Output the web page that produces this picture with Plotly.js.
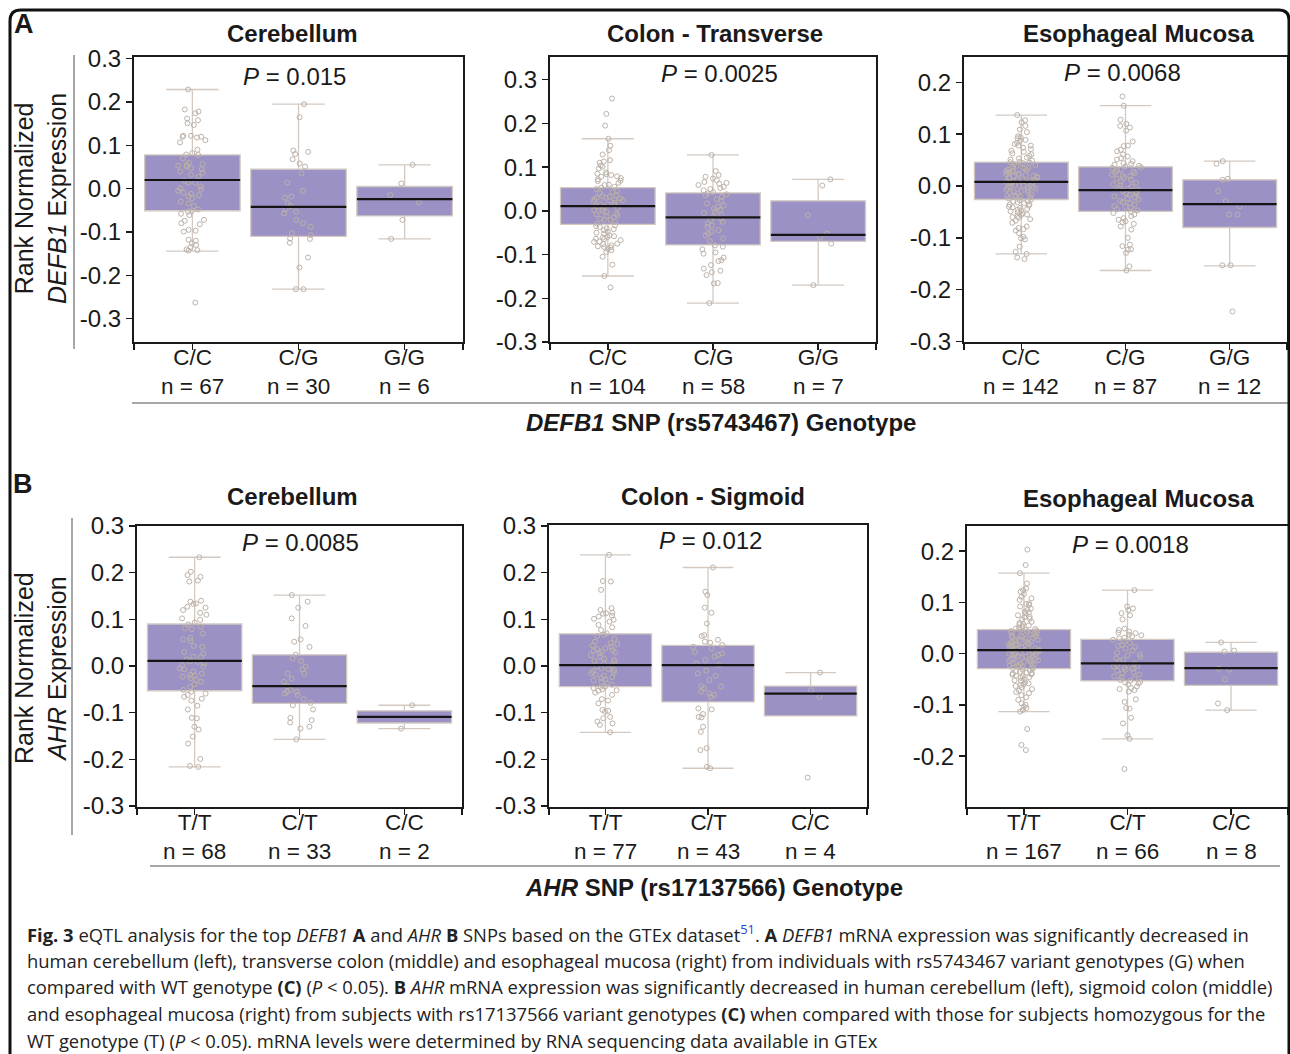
<!DOCTYPE html>
<html><head><meta charset="utf-8">
<script src="https://cdn.plot.ly/plotly-3.0.1.min.js"></script>
<style>html,body{margin:0;padding:0;background:#fff}#chart{width:1290px;height:1054px}</style>
</head><body><div id="chart"></div>
<script>
// ---------- DATA ----------
const genotypesA = ['C/C', 'C/G', 'G/G'];
const genotypesB = ['T/T', 'C/T', 'C/C'];
const tissuesA = ['Cerebellum', 'Colon - Transverse', 'Esophageal Mucosa'];
const tissuesB = ['Cerebellum', 'Colon - Sigmoid', 'Esophageal Mucosa'];
const pValuesA = ['0.015', '0.0025', '0.0068'];
const pValuesB = ['0.0085', '0.012', '0.0018'];
const nA1 = [67, 30, 6], nA2 = [104, 58, 7], nA3 = [142, 87, 12];
const nB1 = [68, 33, 2], nB2 = [77, 43, 4], nB3 = [167, 66, 8];
const yTickVals7 = [-0.3, -0.2, -0.1, 0, 0.1, 0.2, 0.3];
const yTickText7 = ['-0.3', '-0.2', '-0.1', '0.0', '0.1', '0.2', '0.3'];
const yTickVals6 = [-0.3, -0.2, -0.1, 0, 0.1, 0.2];
const yTickText6 = ['-0.3', '-0.2', '-0.1', '0.0', '0.1', '0.2'];

// box statistics (q1, median, q3, lower whisker, upper whisker)
const a1_q1 = [-0.051, -0.110, -0.063], a1_med = [0.020, -0.042, -0.024], a1_q3 = [0.078, 0.045, 0.005], a1_lo = [-0.144, -0.232, -0.116], a1_hi = [0.229, 0.195, 0.055];
const a2_q1 = [-0.031, -0.078, -0.070], a2_med = [0.011, -0.015, -0.055], a2_q3 = [0.053, 0.041, 0.023], a2_lo = [-0.149, -0.211, -0.170], a2_hi = [0.165, 0.128, 0.072];
const a3_q1 = [-0.026, -0.049, -0.080], a3_med = [0.008, -0.008, -0.035], a3_q3 = [0.046, 0.037, 0.012], a3_lo = [-0.131, -0.163, -0.154], a3_hi = [0.137, 0.155, 0.048];
const b1_q1 = [-0.053, -0.080, -0.122], b1_med = [0.011, -0.043, -0.109], b1_q3 = [0.090, 0.024, -0.096], b1_lo = [-0.216, -0.157, -0.134], b1_hi = [0.233, 0.152, -0.084];
const b2_q1 = [-0.044, -0.077, -0.107], b2_med = [0.002, 0.002, -0.059], b2_q3 = [0.069, 0.044, -0.043], b2_lo = [-0.142, -0.219, -0.107], b2_hi = [0.238, 0.211, -0.014];
const b3_q1 = [-0.029, -0.053, -0.062], b3_med = [0.007, -0.019, -0.028], b3_q3 = [0.047, 0.028, 0.003], b3_lo = [-0.113, -0.166, -0.110], b3_hi = [0.157, 0.124, 0.022];

// individual samples
const a1_cc = [0.229,0.183,0.178,0.174,0.162,0.158,0.151,0.147,0.122,0.122,0.120,0.120,0.118,0.112,0.107,0.090,0.082,0.079,0.078,0.070,0.060,0.057,0.055,0.053,0.051,0.047,0.045,0.040,0.037,0.032,0.028,0.018,0.014,0.014,0.005,0.001,-0.002,-0.005,-0.009,-0.012,-0.015,-0.018,-0.022,-0.030,-0.034,-0.040,-0.048,-0.051,-0.053,-0.058,-0.061,-0.072,-0.074,-0.080,-0.082,-0.095,-0.097,-0.099,-0.118,-0.120,-0.126,-0.130,-0.135,-0.140,-0.142,-0.143,-0.263];
const a1_cg = [0.195,0.165,0.088,0.085,0.080,0.068,0.058,0.051,0.035,0.014,-0.005,-0.018,-0.021,-0.034,-0.040,-0.048,-0.053,-0.057,-0.072,-0.080,-0.088,-0.103,-0.107,-0.115,-0.116,-0.125,-0.159,-0.182,-0.232,-0.232];
const a1_gg = [0.055,0.012,-0.015,-0.032,-0.072,-0.116];
const a2_cc = [0.257,0.222,0.195,0.165,0.149,0.139,0.129,0.116,0.113,0.110,0.104,0.101,0.097,0.088,0.085,0.084,0.082,0.079,0.078,0.075,0.072,0.069,0.068,0.064,0.060,0.059,0.055,0.053,0.050,0.045,0.043,0.040,0.036,0.034,0.032,0.030,0.030,0.028,0.026,0.025,0.024,0.021,0.018,0.015,0.015,0.013,0.010,0.009,0.007,0.004,0.002,0.000,-0.003,-0.006,-0.008,-0.010,-0.012,-0.015,-0.018,-0.020,-0.021,-0.025,-0.029,-0.033,-0.035,-0.037,-0.040,-0.042,-0.044,-0.048,-0.050,-0.052,-0.056,-0.058,-0.060,-0.061,-0.064,-0.065,-0.067,-0.070,-0.071,-0.075,-0.076,-0.079,-0.081,-0.083,-0.084,-0.087,-0.090,-0.094,-0.105,-0.123,-0.149,-0.175];
const a2_cg = [0.128,0.091,0.082,0.078,0.074,0.070,0.066,0.064,0.062,0.059,0.055,0.052,0.050,0.047,0.043,0.040,0.038,0.036,0.032,0.027,0.023,0.017,0.012,0.009,0.005,0.002,-0.002,-0.005,-0.010,-0.014,-0.018,-0.021,-0.025,-0.029,-0.033,-0.037,-0.044,-0.048,-0.052,-0.056,-0.063,-0.069,-0.079,-0.082,-0.088,-0.095,-0.098,-0.107,-0.113,-0.115,-0.124,-0.132,-0.137,-0.140,-0.147,-0.165,-0.166,-0.211];
const a2_gg = [0.072,0.058,-0.010,-0.052,-0.061,-0.075,-0.170];
const a3_cc = [0.137,0.127,0.123,0.116,0.109,0.104,0.096,0.092,0.089,0.087,0.083,0.081,0.078,0.074,0.071,0.068,0.063,0.058,0.055,0.051,0.049,0.047,0.046,0.044,0.042,0.040,0.039,0.037,0.035,0.034,0.032,0.030,0.029,0.027,0.026,0.024,0.023,0.021,0.020,0.019,0.017,0.016,0.015,0.013,0.012,0.011,0.010,0.009,0.007,0.006,0.005,0.004,0.002,0.001,0.000,-0.001,-0.003,-0.004,-0.005,-0.007,-0.008,-0.010,-0.011,-0.013,-0.014,-0.016,-0.018,-0.019,-0.021,-0.022,-0.024,-0.026,-0.027,-0.029,-0.031,-0.033,-0.035,-0.036,-0.038,-0.040,-0.042,-0.044,-0.046,-0.049,-0.051,-0.053,-0.056,-0.058,-0.061,-0.064,-0.067,-0.071,-0.078,-0.081,-0.083,-0.086,-0.091,-0.098,-0.101,-0.103,-0.117,-0.127,-0.131,-0.138,-0.141,0.061,0.053,0.045,0.036,0.028,0.018,0.008,-0.002,-0.012,-0.020,-0.030,-0.041,-0.047,-0.055,-0.060,0.094,0.078,0.066,0.031,0.022];
const a3_cg = [0.173,0.155,0.128,0.120,0.116,0.113,0.107,0.086,0.078,0.077,0.070,0.061,0.057,0.054,0.051,0.048,0.043,0.041,0.038,0.036,0.035,0.032,0.028,0.026,0.025,0.022,0.019,0.016,0.012,0.009,0.006,0.003,-0.001,-0.004,-0.007,-0.010,-0.012,-0.014,-0.017,-0.020,-0.022,-0.026,-0.029,-0.033,-0.036,-0.039,-0.042,-0.045,-0.049,-0.052,-0.055,-0.058,-0.062,-0.065,-0.068,-0.070,-0.073,-0.078,-0.084,-0.100,-0.113,-0.116,-0.122,-0.123,-0.129,-0.155,-0.163,0.044,0.030,0.014,0.001,-0.015,-0.024,-0.031,-0.047,0.067,0.039,0.020,-0.005,-0.040];
const a3_gg = [0.048,0.043,0.014,0.012,-0.010,-0.029,-0.039,-0.055,-0.055,-0.153,-0.153,-0.242];
const b1_tt = [0.233,0.202,0.195,0.191,0.183,0.181,0.140,0.138,0.134,0.133,0.127,0.125,0.120,0.114,0.110,0.102,0.099,0.093,0.089,0.084,0.081,0.079,0.070,0.060,0.057,0.054,0.043,0.041,0.030,0.027,0.020,0.019,0.014,0.010,0.009,0.006,0.002,-0.001,-0.005,-0.007,-0.012,-0.016,-0.019,-0.020,-0.023,-0.026,-0.030,-0.034,-0.039,-0.045,-0.051,-0.055,-0.059,-0.062,-0.066,-0.070,-0.074,-0.085,-0.093,-0.111,-0.112,-0.130,-0.136,-0.151,-0.166,-0.199,-0.214,-0.216];
const b1_ct = [0.152,0.138,0.125,0.102,0.086,0.057,0.052,0.041,0.024,0.016,0.011,-0.001,-0.007,-0.016,-0.016,-0.027,-0.034,-0.043,-0.051,-0.055,-0.055,-0.059,-0.062,-0.071,-0.079,-0.084,-0.093,-0.111,-0.116,-0.121,-0.130,-0.134,-0.157];
const b1_cc = [-0.084,-0.134];
const b2_tt = [0.238,0.182,0.181,0.163,0.124,0.120,0.114,0.113,0.112,0.108,0.106,0.101,0.099,0.095,0.088,0.083,0.077,0.070,0.067,0.064,0.058,0.052,0.049,0.047,0.044,0.041,0.038,0.036,0.033,0.031,0.029,0.027,0.023,0.020,0.016,0.013,0.011,0.009,0.005,0.002,-0.001,-0.005,-0.007,-0.009,-0.012,-0.014,-0.016,-0.018,-0.021,-0.024,-0.026,-0.029,-0.031,-0.034,-0.037,-0.040,-0.044,-0.047,-0.050,-0.053,-0.057,-0.062,-0.071,-0.074,-0.080,-0.094,-0.096,-0.098,-0.109,-0.112,-0.119,-0.123,-0.126,-0.142,0.034,-0.045,-0.052];
const b2_ct = [0.211,0.159,0.152,0.125,0.114,0.091,0.066,0.064,0.056,0.052,0.050,0.045,0.041,0.038,0.030,0.027,0.024,0.020,0.013,0.002,-0.010,-0.016,-0.021,-0.043,-0.044,-0.048,-0.059,-0.062,-0.066,-0.091,-0.093,-0.103,-0.109,-0.110,-0.130,-0.141,-0.176,-0.180,-0.216,-0.219,0.005,-0.030,-0.055];
const b2_cc = [-0.014,-0.052,-0.066,-0.239];
const b3_tt = [0.203,0.173,0.157,0.137,0.127,0.124,0.121,0.116,0.111,0.108,0.105,0.098,0.097,0.095,0.088,0.085,0.082,0.079,0.075,0.072,0.067,0.062,0.060,0.057,0.055,0.053,0.051,0.049,0.047,0.046,0.044,0.042,0.040,0.039,0.037,0.036,0.034,0.032,0.031,0.029,0.028,0.026,0.025,0.023,0.022,0.021,0.019,0.018,0.017,0.015,0.014,0.013,0.012,0.010,0.009,0.008,0.007,0.006,0.005,0.004,0.002,0.001,0.000,-0.001,-0.002,-0.004,-0.005,-0.006,-0.008,-0.009,-0.011,-0.012,-0.014,-0.015,-0.017,-0.018,-0.020,-0.021,-0.023,-0.025,-0.027,-0.029,-0.031,-0.033,-0.035,-0.037,-0.039,-0.041,-0.044,-0.047,-0.050,-0.053,-0.056,-0.058,-0.060,-0.063,-0.066,-0.069,-0.072,-0.075,-0.077,-0.081,-0.085,-0.090,-0.097,-0.100,-0.103,-0.106,-0.110,-0.113,-0.147,-0.178,-0.188,0.068,0.058,0.048,0.041,0.035,0.027,0.020,0.016,0.011,0.003,-0.003,-0.010,-0.016,-0.022,-0.028,-0.034,-0.040,-0.046,-0.052,-0.061,0.092,0.080,0.071,0.045,0.033,0.024,0.002,-0.013,-0.019,-0.026,-0.038,-0.043];
const b3_ct = [0.124,0.092,0.088,0.085,0.079,0.075,0.067,0.049,0.046,0.043,0.041,0.040,0.037,0.034,0.031,0.030,0.027,0.024,0.021,0.017,0.013,0.010,0.006,0.002,-0.003,-0.006,-0.009,-0.012,-0.016,-0.019,-0.022,-0.025,-0.027,-0.029,-0.031,-0.033,-0.036,-0.038,-0.041,-0.044,-0.046,-0.048,-0.051,-0.053,-0.056,-0.060,-0.064,-0.067,-0.069,-0.071,-0.074,-0.089,-0.094,-0.106,-0.107,-0.125,-0.136,-0.159,-0.166,-0.225,0.036,0.015,-0.001,-0.024,-0.055,-0.058];
const b3_cc = [0.022,0.006,0.004,-0.029,-0.031,-0.050,-0.097,-0.110];

// ---------- BUILD ----------
const W = 1290, H = 1054;
const px = v => v / W, py = v => 1 - v / H;
const FONT = 'Liberation Sans, Arial, Helvetica, sans-serif';
const INK = '#1a1a1a';
const BOX_FILL = '#9b91c4', BOX_LINE = '#d3c9c1', PT = '#bdb2a9';

const panels = [
  {geno: genotypesA, n: nA1, p: pValuesA[0], title: tissuesA[0], s: [a1_q1, a1_med, a1_q3, a1_lo, a1_hi], pts: [a1_cc, a1_cg, a1_gg],
   box: [134, 463, 342, 57], yr: [-0.354, 0.304], tv: yTickVals7, tt: yTickText7, tpos: [292, 34], ppos: [294, 76]},
  {geno: genotypesA, n: nA2, p: pValuesA[1], title: tissuesA[1], s: [a2_q1, a2_med, a2_q3, a2_lo, a2_hi], pts: [a2_cc, a2_cg, a2_gg],
   box: [550, 876, 342, 57], yr: [-0.300, 0.352], tv: yTickVals7, tt: yTickText7, tpos: [715, 34], ppos: [719, 74]},
  {geno: genotypesA, n: nA3, p: pValuesA[2], title: tissuesA[2], s: [a3_q1, a3_med, a3_q3, a3_lo, a3_hi], pts: [a3_cc, a3_cg, a3_gg],
   box: [964, 1287, 342, 57], yr: [-0.301, 0.249], tv: yTickVals6, tt: yTickText6, tpos: [1138, 34], ppos: [1122, 73]},
  {geno: genotypesB, n: nB1, p: pValuesB[0], title: tissuesB[0], s: [b1_q1, b1_med, b1_q3, b1_lo, b1_hi], pts: [b1_tt, b1_ct, b1_cc],
   box: [137, 462, 807, 526], yr: [-0.302, 0.300], tv: yTickVals7, tt: yTickText7, tpos: [292, 496], ppos: [300, 542]},
  {geno: genotypesB, n: nB2, p: pValuesB[1], title: tissuesB[1], s: [b2_q1, b2_med, b2_q3, b2_lo, b2_hi], pts: [b2_tt, b2_ct, b2_cc],
   box: [549, 867, 807, 525], yr: [-0.302, 0.302], tv: yTickVals7, tt: yTickText7, tpos: [713, 496], ppos: [710, 540]},
  {geno: genotypesB, n: nB3, p: pValuesB[2], title: tissuesB[2], s: [b3_q1, b3_med, b3_q3, b3_lo, b3_hi], pts: [b3_tt, b3_ct, b3_cc],
   box: [967, 1288, 807, 526], yr: [-0.299, 0.249], tv: yTickVals6, tt: yTickText6, tpos: [1138, 499], ppos: [1130, 544]}
];

const traces = [];
const layout = {
  width: W, height: H, margin: {l: 0, r: 0, t: 0, b: 0},
  paper_bgcolor: '#fff', plot_bgcolor: 'rgba(0,0,0,0)',
  showlegend: false, boxmode: 'overlay',
  font: {family: FONT, color: INK},
  annotations: [], shapes: []
};

panels.forEach((P, i) => {
  const k = i + 1;
  const xa = k === 1 ? 'x' : 'x' + k, ya = k === 1 ? 'y' : 'y' + k;
  const pos = P.geno.map((g, j) => j);
  const [q1, med, q3, lo, hi] = P.s;
  traces.push({type: 'box', xaxis: xa, yaxis: ya, x: pos, q1: q1, median: med, q3: q3, lowerfence: lo, upperfence: hi,
    width: 0.9, whiskerwidth: 0.55, boxpoints: false, fillcolor: BOX_FILL, line: {color: BOX_LINE, width: 1.3}, hoverinfo: 'skip'});
  const xs = [], ys = [];
  P.pts.forEach((arr, j) => arr.forEach(v => { xs.push(j); ys.push(v); }));
  traces.push({type: 'box', xaxis: xa, yaxis: ya, x: xs, y: ys, width: 0.9, boxpoints: 'all', jitter: 0.34, pointpos: 0,
    fillcolor: 'rgba(0,0,0,0)', line: {color: 'rgba(0,0,0,0)', width: 0}, whiskerwidth: 0,
    marker: {symbol: 'circle-open', size: 5, color: PT, line: {width: 1, color: PT}}, hoverinfo: 'skip'});
  traces.push({type: 'box', xaxis: xa, yaxis: ya, x: pos, q1: med, median: med, q3: med, lowerfence: med, upperfence: med,
    width: 0.9, whiskerwidth: 1, boxpoints: false, fillcolor: 'rgba(0,0,0,0)', line: {color: '#141414', width: 2.2}, hoverinfo: 'skip'});

  const [l, r, b, t] = P.box;
  layout[k === 1 ? 'xaxis' : 'xaxis' + k] = {
    domain: [px(l), px(r)], anchor: ya, range: [-0.55, 2.55], fixedrange: true,
    tickmode: 'array', tickvals: [-0.55, 0, 1, 2, 2.55], showticklabels: false,
    ticks: 'outside', ticklen: 6, tickwidth: 1.5, tickcolor: INK,
    showline: true, linecolor: INK, linewidth: 2, mirror: true, showgrid: false, zeroline: false
  };
  layout[k === 1 ? 'yaxis' : 'yaxis' + k] = {
    domain: [py(b), py(t)], anchor: xa, range: P.yr, fixedrange: true,
    tickmode: 'array', tickvals: P.tv, ticktext: P.tt,
    ticks: 'outside', ticklen: 6, tickwidth: 1.5, tickcolor: INK,
    showline: true, linecolor: INK, linewidth: 2, mirror: true, showgrid: false, zeroline: false,
    tickfont: {family: FONT, size: 24, color: INK}
  };
  // genotype + n label block under each box
  P.geno.forEach((g, j) => layout.annotations.push({xref: xa, yref: 'paper', x: j, y: py(b + 30), text: g + '<br>n = ' + P.n[j],
    showarrow: false, xanchor: 'center', yanchor: 'middle', align: 'center', font: {family: FONT, size: 22.5, color: INK}}));
  layout.annotations.push({xref: 'paper', yref: 'paper', x: px(P.tpos[0]), y: py(P.tpos[1]), text: '<b>' + P.title + '</b>',
    showarrow: false, xanchor: 'center', yanchor: 'middle', font: {family: FONT, size: 24, color: INK}});
  layout.annotations.push({xref: 'paper', yref: 'paper', x: px(P.ppos[0]), y: py(P.ppos[1]), text: '<i>P</i> = ' + P.p,
    showarrow: false, xanchor: 'center', yanchor: 'middle', font: {family: FONT, size: 24, color: INK}});
});

const ann = (x, y, text, opts) => Object.assign({xref: 'paper', yref: 'paper', x: px(x), y: py(y), text: text, showarrow: false,
  xanchor: 'center', yanchor: 'middle', font: {family: FONT, size: 24, color: INK}}, opts || {});

layout.annotations.push(ann(24, 24, '<b>A</b>', {font: {family: FONT, size: 27, color: INK}}));
layout.annotations.push(ann(23, 484, '<b>B</b>', {font: {family: FONT, size: 27, color: INK}}));
layout.annotations.push(ann(40, 199, 'Rank Normalized<br><i>DEFB1</i> Expression', {textangle: -90, font: {family: FONT, size: 25, color: INK}}));
layout.annotations.push(ann(40, 668, 'Rank Normalized<br><i>AHR</i> Expression', {textangle: -90, font: {family: FONT, size: 25, color: INK}}));
layout.annotations.push(ann(721, 422, '<b><i>DEFB1</i> SNP (rs5743467) Genotype</b>', {font: {family: FONT, size: 24, color: INK}}));
layout.annotations.push(ann(714, 887, '<b><i>AHR</i> SNP (rs17137566) Genotype</b>', {font: {family: FONT, size: 24, color: INK}}));

const CAP = 'Open Sans, Noto Sans, sans-serif';
const captionLines = [
  '<b>Fig. 3</b> eQTL analysis for the top <i>DEFB1</i> <b>A</b> and <i>AHR</i> <b>B</b> SNPs based on the GTEx dataset<sup><span style="color:#2b3fd6">51</span></sup>. <b>A</b> <i>DEFB1</i> mRNA expression was significantly decreased in',
  'human cerebellum (left), transverse colon (middle) and esophageal mucosa (right) from individuals with rs5743467 variant genotypes (G) when',
  'compared with WT genotype <b>(C)</b> (<i>P</i> &lt; 0.05). <b>B</b> <i>AHR</i> mRNA expression was significantly decreased in human cerebellum (left), sigmoid colon (middle)',
  'and esophageal mucosa (right) from subjects with rs17137566 variant genotypes <b>(C)</b> when compared with those for subjects homozygous for the',
  'WT genotype (T) (<i>P</i> &lt; 0.05). mRNA levels were determined by RNA sequencing data available in GTEx'
];
const capY = [933, 960, 986, 1013, 1040];
captionLines.forEach((t, i) => layout.annotations.push(ann(25, capY[i], t, {xanchor: 'left', font: {family: CAP, size: 18.4, color: '#222'}})));

const line = (x0, y0, x1, y1, c, w) => ({type: 'line', xref: 'paper', yref: 'paper', x0: px(x0), y0: py(y0), x1: px(x1), y1: py(y1), line: {color: c, width: w}});
layout.shapes.push(line(74, 55, 74, 349, '#8a8a8a', 1.5));
layout.shapes.push(line(72, 518, 72, 835, '#8a8a8a', 1.5));
layout.shapes.push(line(132, 403, 1290, 403, '#8a8a8a', 1.5));
layout.shapes.push(line(150, 866, 1280, 866, '#8a8a8a', 1.5));
const P2 = (x, y) => px(x).toFixed(5) + ',' + py(y).toFixed(5);
layout.shapes.push({type: 'path', xref: 'paper', yref: 'paper',
  path: 'M' + P2(10, 1054) + ' L' + P2(10, 21) + ' Q' + P2(10, 10) + ' ' + P2(21, 10) + ' L' + P2(1279, 10) + ' Q' + P2(1289, 10) + ' ' + P2(1289, 20) + ' L' + P2(1289, 1054),
  line: {color: '#111', width: 3}});

Plotly.newPlot('chart', traces, layout, {staticPlot: true, displayModeBar: false});
</script></body></html>
